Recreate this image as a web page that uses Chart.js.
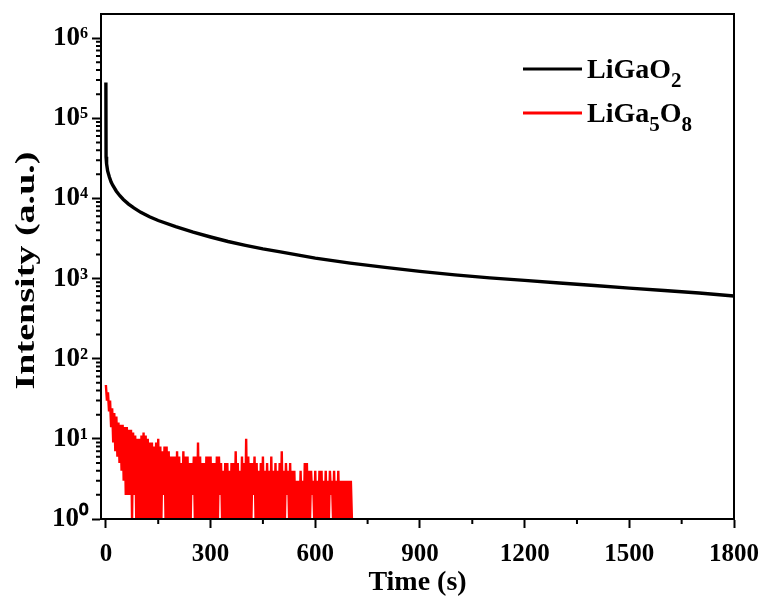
<!DOCTYPE html>
<html><head><meta charset="utf-8">
<script src="https://cdn.jsdelivr.net/npm/chart.js@4.4.0/dist/chart.umd.min.js"></script>
<style>html,body{margin:0;padding:0;background:#fff;}</style>
</head><body>
<canvas id="c" width="766" height="603"></canvas>
<script>
// ---- data ----
const seriesNames = ['LiGaO2', 'LiGa5O8'];
const legendParts = [
  [['LiGaO', false], ['2', true]],
  [['LiGa', false], ['5', true], ['O', false], ['8', true]]
];
const blackTime = [0, 0.5, 2, 5, 10, 15, 20, 30, 40, 50, 65, 80, 100, 125, 150, 200, 250, 300, 350, 400, 450, 500, 600, 700, 800, 900, 1000, 1100, 1200, 1300, 1400, 1500, 1600, 1700, 1800];
const blackValues = [280000, 33000, 27000, 22000, 18500, 16000, 14500, 12300, 10800, 9700, 8500, 7600, 6700, 5900, 5300, 4450, 3800, 3300, 2900, 2600, 2350, 2150, 1800, 1560, 1380, 1230, 1110, 1020, 950, 880, 820, 760, 710, 660, 605];
const redStart = 0, redStep = 3;
const redValues = [
  47,30, 38,22, 30,14, 24,9, 21,7, 19,6, 16,5, 15,4, 15,3, 14,2,
  14,2, 13,2, 13,1, 12,2, 11,1, 10,1, 10,1, 11,1, 12,1, 11,1,
  10,1, 9,1, 9,1, 8,1, 9,1, 10,1, 8,1, 7,2, 8,1, 8,1,
  7,1, 6,1, 6,1, 6,1, 7,1, 6,1, 5,1, 7,1, 6,1, 6,1,
  5,1, 5,2, 6,1, 6,1, 9,1, 6,1, 5,1, 5,1, 6,1, 6,1,
  6,1, 5,1, 5,1, 6,1, 6,2, 5,1, 4,1, 5,1, 5,1, 4,1,
  5,1, 5,1, 7,1, 5,1, 4,1, 6,1, 5,1, 10,1, 6,1, 5,1,
  5,2, 6,1, 5,1, 4,1, 5,1, 6,1, 4,1, 5,1, 4,1, 6,1,
  4,1, 5,1, 4,1, 5,1, 7,1, 4,1, 5,2, 4,1, 5,1, 4,1,
  4,1, 3,1, 3,1, 4,1, 3,1, 5,1, 5,1, 4,1, 4,2, 3,1,
  4,1, 3,1, 4,1, 4,1, 3,1, 4,1, 3,1, 4,2, 3,1, 4,1,
  3,1, 4,1, 3,1, 3,1, 3,1, 3,1, 3,1, 3,1
];
const xTickValues = [0, 300, 600, 900, 1200, 1500, 1800];
const xTickLabels = ['0', '300', '600', '900', '1200', '1500', '1800'];
const xMinorTickValues = [150, 450, 750, 1050, 1350, 1650];
const yTickValues = [1, 10, 100, 1000, 10000, 100000, 1000000];
const yTickLabels = ['10\u2070', '10\u00B9', '10\u00B2', '10\u00B3', '10\u2074', '10\u2075', '10\u2076'];
const xTitle = 'Time (s)';
const yTitle = 'Intensity (a.u.)';

// ---- chart ----
const FAM = '"Liberation Serif", "Times New Roman", serif';
Chart.defaults.color = '#000';

const extras = {
  id: 'extras',
  afterDraw(chart) {
    const ctx = chart.ctx, a = chart.chartArea;
    const xs = chart.scales.x, ys = chart.scales.y;
    ctx.save();
    ctx.strokeStyle = '#000';
    ctx.lineWidth = 2;
    ctx.strokeRect(a.left, a.top, a.right - a.left, a.bottom - a.top);
    ctx.beginPath();
    xMinorTickValues.forEach(v => {
      const px = xs.getPixelForValue(v);
      ctx.moveTo(px, a.bottom); ctx.lineTo(px, a.bottom + 5);
    });
    for (let e = 0; e < 7; e++) {
      for (let m = 2; m <= 9; m++) {
        const v = m * Math.pow(10, e);
        if (v >= ys.max) continue;
        const py = ys.getPixelForValue(v);
        ctx.moveTo(a.left, py); ctx.lineTo(a.left - 5, py);
      }
    }
    ctx.stroke();
    // y axis title (stretched along its length like the reference)
    ctx.save();
    ctx.translate(27, (a.top + a.bottom) / 2 + 4);
    ctx.rotate(-Math.PI / 2);
    ctx.scale(1.36, 1);
    ctx.font = 'bold 28px ' + FAM;
    ctx.fillStyle = '#000';
    ctx.textAlign = 'center';
    ctx.textBaseline = 'middle';
    ctx.fillText(yTitle, 0, 0);
    ctx.restore();
    // legend
    const rowsY = [69, 113];
    chart.data.datasets.forEach((ds, i) => {
      const y = rowsY[i];
      ctx.strokeStyle = ds.borderColor;
      ctx.lineWidth = 3;
      ctx.beginPath(); ctx.moveTo(523, y); ctx.lineTo(582, y); ctx.stroke();
      let x = 587;
      ctx.fillStyle = '#000';
      ctx.textBaseline = 'alphabetic';
      ctx.textAlign = 'left';
      legendParts[i].forEach(([txt, sub]) => {
        ctx.font = 'bold ' + (sub ? 21 : 28) + 'px ' + FAM;
        ctx.fillText(txt, x, y + (sub ? 18 : 9));
        x += ctx.measureText(txt).width;
      });
    });
    ctx.restore();
  }
};

new Chart(document.getElementById('c'), {
  type: 'line',
  data: {
    datasets: [
      { label: seriesNames[0], data: blackTime.map((t, i) => ({ x: t, y: blackValues[i] })),
        borderColor: '#000000', borderWidth: 3.4, pointRadius: 0, tension: 0, fill: false },
      { label: seriesNames[1], data: redValues.map((v, i) => ({ x: redStart + i * redStep, y: v })),
        borderColor: '#ff0000', borderWidth: 2.4, pointRadius: 0, tension: 0, fill: false }
    ]
  },
  options: {
    responsive: false, animation: false, devicePixelRatio: 1,
    layout: { padding: { left: 0, right: 32, top: 14, bottom: 0 } },
    plugins: { legend: { display: false }, tooltip: { enabled: false } },
    scales: {
      x: {
        type: 'linear', min: -14, max: 1800,
        afterBuildTicks: s => { s.ticks = xTickValues.map(v => ({ value: v })); },
        afterFit: s => { s.height = 84; s.paddingLeft = 0; s.paddingRight = 0; },
        grid: { display: true, drawOnChartArea: false, drawTicks: true, tickLength: 9, tickWidth: 2, tickColor: '#000' },
        border: { display: true, color: '#000', width: 2 },
        ticks: { color: '#000', autoSkip: false, maxRotation: 0, padding: 12,
          callback: (v) => { const i = xTickValues.indexOf(v); return i >= 0 ? xTickLabels[i] : ''; },
          font: { family: FAM, size: 25, weight: 'bold' } },
        title: { display: true, text: xTitle, color: '#000', padding: { top: 0, bottom: 3 },
          font: { family: FAM, size: 28, weight: 'bold' } }
      },
      y: {
        type: 'logarithmic', min: 1, max: 2e6,
        afterBuildTicks: s => { s.ticks = yTickValues.map(v => ({ value: v })); },
        afterFit: s => { s.width = 101; s.paddingTop = 0; s.paddingBottom = 0; },
        grid: { display: true, drawOnChartArea: false, drawTicks: true, tickLength: 9, tickWidth: 2, tickColor: '#000' },
        border: { display: true, color: '#000', width: 2 },
        ticks: { color: '#000', autoSkip: false, padding: 4,
          callback: (v) => { const i = yTickValues.indexOf(v); return i >= 0 ? yTickLabels[i] : ''; },
          font: { family: FAM, size: 27, weight: 'bold' } },
        title: { display: false, text: yTitle }
      }
    }
  },
  plugins: [extras]
});
</script>
</body></html>
